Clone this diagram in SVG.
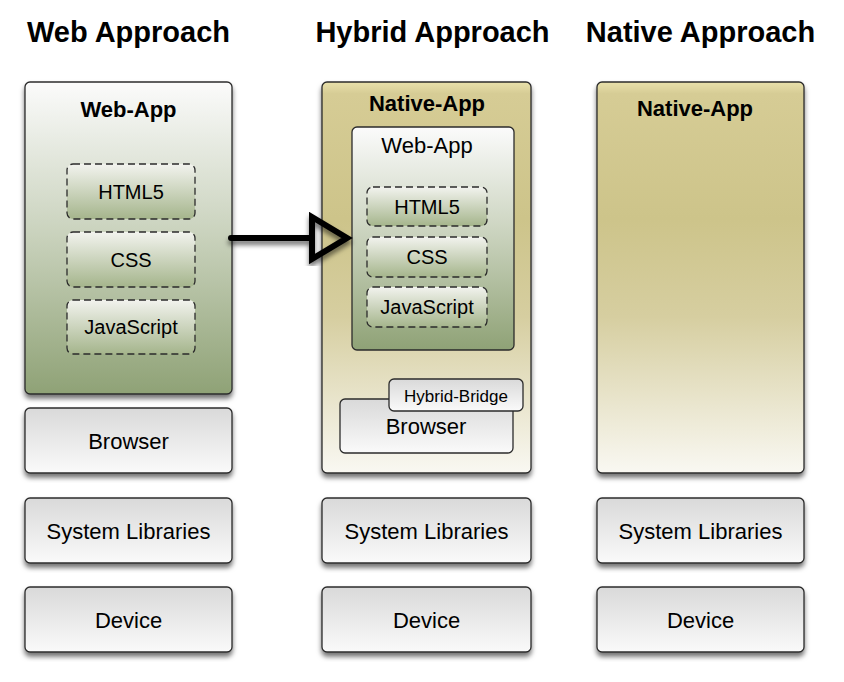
<svg xmlns="http://www.w3.org/2000/svg" width="844" height="682" viewBox="0 0 844 682">
<defs>
<linearGradient id="gGray" x1="0" y1="0" x2="0" y2="1">
<stop offset="0" stop-color="#d9d9d9"/><stop offset="1" stop-color="#fafafa"/>
</linearGradient>
<linearGradient id="gGreen" x1="0" y1="0" x2="0" y2="1">
<stop offset="0" stop-color="#fbfbfb"/><stop offset="0.5" stop-color="#c8d1bb"/><stop offset="1" stop-color="#8fa276"/>
</linearGradient>
<linearGradient id="gDash" x1="0" y1="0" x2="0" y2="1">
<stop offset="0" stop-color="#f2f3ee"/><stop offset="1" stop-color="#a5b58c"/>
</linearGradient>
<linearGradient id="gTan" x1="0" y1="0" x2="0" y2="1">
<stop offset="0" stop-color="#e9e1ab"/><stop offset="0.03" stop-color="#d6cc95"/><stop offset="0.35" stop-color="#cdc48a"/><stop offset="0.6" stop-color="#d6cea0"/><stop offset="1" stop-color="#f9f8f2"/>
</linearGradient>
<filter id="sh" x="-10%" y="-10%" width="120%" height="125%">
<feDropShadow dx="0" dy="4" stdDeviation="2.5" flood-color="#000" flood-opacity="0.55"/>
</filter>
</defs>
<style>
.box{stroke:#2b2b2b;stroke-width:1.3}
.gray{fill:url(#gGray)}
.green{fill:url(#gGreen)}
.tan{fill:url(#gTan)}
.dash{fill:url(#gDash);stroke:#2b2b2b;stroke-width:1.3;stroke-dasharray:7 4}
text{font-family:"Liberation Sans",Arial,sans-serif;fill:#000;text-anchor:middle}
.h{font-size:29px;font-weight:bold}
.t{font-size:22px;font-weight:bold}
.l{font-size:22px}
.s{font-size:20px}
.xs{font-size:17px}
</style>

<g id="headers">
<text class="h" x="128.5" y="42">Web Approach</text>
<text class="h" x="432.5" y="42">Hybrid Approach</text>
<text class="h" x="700.5" y="42">Native Approach</text>
</g>

<g id="web-webapp">
<rect class="box green" x="25" y="82" width="207" height="312" rx="5" filter="url(#sh)"/>
<text class="t" x="128.5" y="117">Web-App</text>
</g>
<g id="web-html5"><rect class="dash" x="67" y="164" width="128" height="55" rx="6"/><text class="s" x="131" y="198.5">HTML5</text></g>
<g id="web-css"><rect class="dash" x="67" y="232" width="128" height="55" rx="6"/><text class="s" x="131" y="266.5">CSS</text></g>
<g id="web-js"><rect class="dash" x="67" y="300" width="128" height="54" rx="6"/><text class="s" x="131" y="334">JavaScript</text></g>
<g id="web-browser"><rect class="box gray" x="25" y="408" width="207" height="65" rx="5" filter="url(#sh)"/><text class="l" x="128.5" y="448.5">Browser</text></g>
<g id="web-syslib"><rect class="box gray" x="25" y="498" width="207" height="65" rx="5" filter="url(#sh)"/><text class="l" x="128.5" y="538.5">System Libraries</text></g>
<g id="web-device"><rect class="box gray" x="25" y="587" width="207" height="65" rx="5" filter="url(#sh)"/><text class="l" x="128.5" y="627.5">Device</text></g>

<g id="hyb-nativeapp">
<rect class="box tan" x="322" y="82" width="209" height="391" rx="5" filter="url(#sh)"/>
<text class="t" x="427" y="111">Native-App</text>
</g>
<g id="hyb-webapp">
<rect class="box green" x="352" y="127" width="162" height="223" rx="5"/>
<text class="l" x="427" y="153">Web-App</text>
</g>
<g id="hyb-html5"><rect class="dash" x="367" y="187" width="120" height="39" rx="6"/><text class="s" x="427" y="213.5">HTML5</text></g>
<g id="hyb-css"><rect class="dash" x="367" y="237" width="120" height="40" rx="6"/><text class="s" x="427" y="264">CSS</text></g>
<g id="hyb-js"><rect class="dash" x="367" y="287" width="120" height="40" rx="6"/><text class="s" x="427" y="314">JavaScript</text></g>
<g id="hyb-browser"><rect class="box gray" x="340" y="399" width="173" height="54" rx="5"/><text class="l" x="426" y="434">Browser</text></g>
<g id="hyb-bridge"><rect class="box gray" x="389" y="379" width="134" height="32" rx="5"/><text class="xs" x="456" y="402">Hybrid-Bridge</text></g>
<g id="hyb-syslib"><rect class="box gray" x="322" y="498" width="209" height="65" rx="5" filter="url(#sh)"/><text class="l" x="426.5" y="538.5">System Libraries</text></g>
<g id="hyb-device"><rect class="box gray" x="322" y="587" width="209" height="65" rx="5" filter="url(#sh)"/><text class="l" x="426.5" y="627.5">Device</text></g>

<g id="nat-nativeapp">
<rect class="box tan" x="597" y="82" width="207" height="391" rx="5" filter="url(#sh)"/>
<text class="t" x="695" y="116">Native-App</text>
</g>
<g id="nat-syslib"><rect class="box gray" x="597" y="498" width="207" height="65" rx="5" filter="url(#sh)"/><text class="l" x="700.5" y="538.5">System Libraries</text></g>
<g id="nat-device"><rect class="box gray" x="597" y="587" width="207" height="65" rx="5" filter="url(#sh)"/><text class="l" x="700.5" y="627.5">Device</text></g>

<g id="connectors" filter="url(#sh)">
<line x1="231" y1="238" x2="312" y2="238" stroke="#000" stroke-width="6" stroke-linecap="round"/>
<polygon points="312,217 347,238 312,259" fill="none" stroke="#000" stroke-width="6" stroke-linejoin="miter"/>
</g>
</svg>
